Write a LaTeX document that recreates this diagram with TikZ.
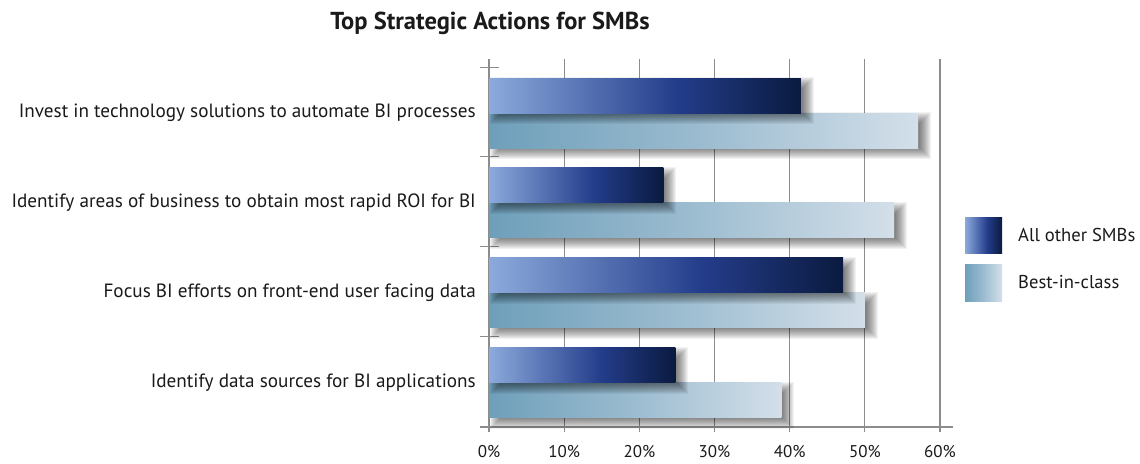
\documentclass[tikz,border=0pt]{standalone}
\usepackage{fontspec}
\setmainfont{PT Sans}

\definecolor{dA}{HTML}{8CAADC}
\definecolor{dB}{HTML}{243D8B}
\definecolor{dC}{HTML}{0A1A3F}
\definecolor{lA}{HTML}{6E9FBA}
\definecolor{lB}{HTML}{9CBCD0}
\definecolor{lC}{HTML}{D3DFE9}
\definecolor{gridgray}{HTML}{8C8C8C}
\definecolor{ink}{HTML}{1A1A1A}

% horizontal gradients for the two series (path spans 25bp..75bp)
\pgfdeclarehorizontalshading{othershade}{100bp}{color(0bp)=(dA); color(25bp)=(dA); color(55bp)=(dB); color(75bp)=(dC); color(100bp)=(dC)}
\pgfdeclarehorizontalshading{bestshade}{100bp}{color(0bp)=(lA); color(25bp)=(lA); color(50bp)=(lB); color(75bp)=(lC); color(100bp)=(lC)}

\tikzset{
  gridline/.style={draw=gridgray, line width=1.2pt},
  bartick/.style={draw=gridgray, line width=0.9pt},
  shadowlayer/.style={fill=black, opacity=0.05},
  otherbar/.style={shading=othershade},
  bestbar/.style={shading=bestshade},
  catlabel/.style={anchor=east, inner sep=0pt, text=ink, font=\fontsize{19.2}{22}\selectfont},
  ticklabel/.style={anchor=center, inner sep=0pt, text=ink, font=\fontsize{17}{20}\selectfont},
  keylabel/.style={anchor=west, inner sep=0pt, text=ink, font=\fontsize{18.6}{22}\selectfont},
  charttitle/.style={inner sep=0pt, text=ink, font=\bfseries\fontsize{24.5}{28}\selectfont},
}

% soft drop shadow below and right of a rectangle (x0,y0)-(x1,y1)
\newcommand\softshadow[4]{%
  \foreach \e in {-5,...,6}{
    \fill[shadowlayer] ({#1+7-\e},{#2+5-\e}) rectangle ({#3+7+\e},{#4+5+\e});
  }%
}

\begin{document}
\begin{tikzpicture}[x=1pt, y=-1pt]
\useasboundingbox[fill=white] (0,0) rectangle (1140,463);

\node[charttitle] (title) at (490,23) {Top Strategic Actions for SMBs};

% vertical grid lines and percentage labels
\foreach \p/\t in {0/0\%,1/10\%,2/20\%,3/30\%,4/40\%,5/50\%,6/60\%}{
  \draw[gridline] ({489+75.17*\p},59) -- ({489+75.17*\p},432);
  \node[ticklabel] (tick\p) at ({489+75.17*\p},452) {\t};
}
% horizontal axis
\draw[gridline] (480,427) -- (953,427);
% category separators
\foreach \c in {0,1,2,3}{
  \draw[bartick] (480,{67+89.9*\c}) -- (499,{67+89.9*\c});
}

% bars: best-in-class first, then all other SMBs on top of it
\foreach \c/\a/\b/\lab in {
  0/41.5/57.1/{Invest in technology solutions to automate BI processes},
  1/23.2/53.9/{Identify areas of business to obtain most rapid ROI for BI},
  2/47.1/50.0/{Focus BI efforts on front-end user facing data},
  3/24.8/38.9/{Identify data sources for BI applications}}{
  \pgfmathsetmacro\ytop{67+89.9*\c}
  \pgfmathsetmacro\xa{489+7.517*\a}
  \pgfmathsetmacro\xb{489+7.517*\b}
  \softshadow{489}{\ytop+46}{\xb}{\ytop+81}
  \path[bestbar] (489,{\ytop+46}) rectangle (\xb,{\ytop+81});
  \softshadow{489}{\ytop+11}{\xa}{\ytop+46}
  \path[otherbar] (489,{\ytop+11}) rectangle (\xa,{\ytop+46});
  \node[catlabel] (cat\c) at (476,{\ytop+46}) {\lab};
}

% legend
\path[otherbar] (965,217) rectangle (1002,253);
\node[keylabel] (keyother) at (1018,235) {All other SMBs};
\path[bestbar] (965,264) rectangle (1002,301);
\node[keylabel] (keybest) at (1018,282) {Best-in-class};
\end{tikzpicture}
\end{document}
